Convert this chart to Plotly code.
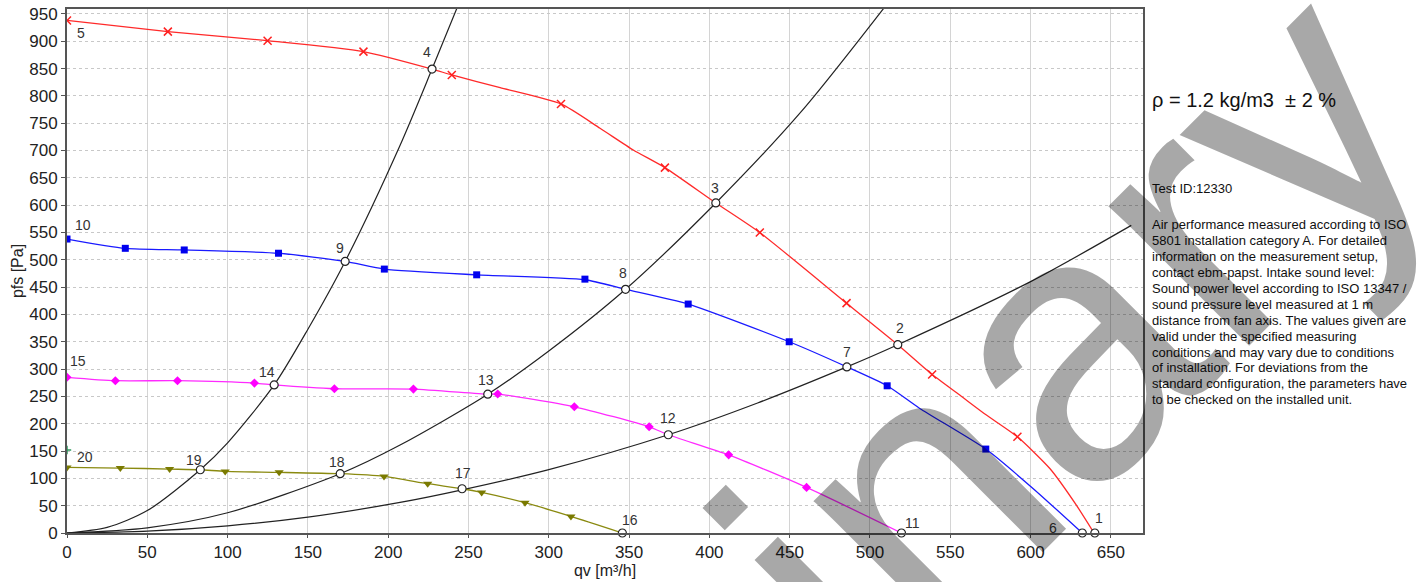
import plotly.graph_objects as go

# ---------------- data ----------------
# fan curves (line nodes)
red_x = [0, 62.8, 124.9, 184.6, 227.3, 239.6, 269.7, 307.6, 331.9, 352.6, 372.3, 404, 431.4, 485.4, 517.3, 538.7, 555.9, 572.5, 591.8, 612, 628.5, 639.5]
red_y = [938, 917.6, 901, 881, 849, 838.3, 815, 785.2, 740.8, 701, 668.7, 604, 549.8, 420.7, 344.6, 290, 252.4, 215.8, 176, 118, 51, 0]
red_mx = [0, 62.8, 124.9, 184.6, 239.6, 307.6, 372.3, 431.4, 485.4, 538.7, 591.8]
red_my = [938, 917.6, 901, 881, 838.3, 785.2, 668.7, 549.8, 420.7, 290, 176]

blue_x = [0, 36.3, 73, 131.7, 173.2, 197.6, 255.1, 322.5, 347.8, 386.8, 449.7, 485.6, 510.7, 531, 572.1, 601.5, 632.2]
blue_y = [538, 521, 518, 512, 497, 483, 472.5, 463.5, 446, 419, 350, 304, 269.4, 228, 153.6, 81.6, 0]
blue_mx = [0, 36.3, 73, 131.7, 197.6, 255.1, 322.5, 386.8, 449.7, 510.7, 572.1]
blue_my = [538, 521, 518, 512, 483, 472.5, 464.6, 419, 350, 269.4, 153.6]

mag_x = [0, 30.1, 68.8, 116.7, 129, 166.5, 215.7, 262, 268.2, 315.9, 362.5, 374.4, 412, 460.5, 519.6]
mag_y = [285, 278.7, 278.7, 274.3, 271, 264, 263.4, 254, 254.3, 231, 194.4, 179.8, 143, 83.5, 0]
mag_mx = [0, 30.1, 68.8, 116.7, 166.5, 215.7, 268.2, 315.9, 362.5, 412, 460.5]
mag_my = [285, 278.7, 278.7, 274.3, 264, 263.4, 254.3, 231, 194.4, 143, 83.5]

olv_x = [0, 33.2, 63.9, 83, 98.5, 132.1, 170.1, 197.4, 224.6, 246, 258.2, 285.2, 313.8, 345.8]
olv_y = [120, 118.9, 117, 115.8, 112.7, 111, 108.5, 103.6, 90.2, 81, 74.3, 55.4, 30.4, 0]
olv_mx = [0, 33.2, 63.9, 98.5, 132.1, 197.4, 224.6, 258.2, 285.2, 313.8]
olv_my = [120, 118.9, 117, 112.7, 111, 103.6, 90.2, 74.3, 55.4, 30.4]

# system resistance curves
sysA_x = [0, 25, 50, 83, 100, 129, 150, 173.2, 207, 227.3, 243]
sysA_y = [0, 10.3, 41, 115.8, 165, 271, 373, 497, 707, 849, 962]
sysB_x = [0, 50, 100, 170.1, 207.4, 262, 300, 347.8, 404, 457.3, 509]
sysB_y = [0, 9.5, 37, 108.5, 161, 254, 333, 446, 604, 771.5, 962]
sysC_x = [0, 50, 100, 150, 207.4, 246, 300, 374.4, 430, 485.6, 517.3, 600, 662.7]
sysC_y = [0, 3.3, 13, 29, 56, 79, 116, 179.8, 238, 304, 344.6, 460, 563]

# operating points
op_labels = [str(i) for i in range(1, 21)]
op_x = [640, 517.3, 404, 227.3, 0, 632.2, 485.6, 347.8, 173.2, 0,
        519.6, 374.4, 262, 129, 0, 345.8, 246, 170.1, 83, 0]
op_y = [0, 344.6, 604, 849, 938, 0, 304, 446, 497, 538,
        0, 179.8, 254, 271, 285, 0, 81, 108.5, 115.8, 120]

# small green mark on the y axis
green_x = [0]
green_y = [152]

x_ticks = list(range(0, 651, 50))
y_ticks = list(range(0, 951, 50))

info_title = "ρ = 1.2 kg/m3  ± 2 %"
test_id = "Test ID:12330"
info_lines = [
    "Air performance measured according to ISO",
    "5801 installation category A. For detailed",
    "information on the measurement setup,",
    "contact ebm-papst. Intake sound level:",
    "Sound power level according to ISO 13347 /",
    "sound pressure level measured at 1 m",
    "distance from fan axis. The values given are",
    "valid under the specified measuring",
    "conditions and may vary due to conditions",
    "of installation. For deviations from the",
    "standard configuration, the parameters have",
    "to be checked on the installed unit.",
]
watermark = "Preliminary"

# ---------------- style ----------------
# pixel offsets of the point labels (dx right, dy up)
label_off = {
    "1": (4, 15), "2": (2, 17), "3": (-1, 15), "4": (-5, 17), "5": (14, -13),
    "6": (-29, 5), "7": (0, 15), "8": (-3, 16), "9": (-5, 13), "10": (16, 14),
    "11": (11, 10), "12": (0, 17), "13": (-2, 14), "14": (-7, 13), "15": (11, 16),
    "16": (8, 13), "17": (1, 16), "18": (-3, 12), "19": (-6, 10), "20": (18, 10),
}

FONT = "Liberation Sans, Arial, sans-serif"
fig = go.Figure()

for xs, ys in [(sysA_x, sysA_y), (sysB_x, sysB_y), (sysC_x, sysC_y)]:
    fig.add_trace(go.Scatter(x=xs, y=ys, mode="lines",
                             line=dict(color="#222222", width=1.2, shape="spline", smoothing=0.8),
                             hoverinfo="skip"))

curves = [
    (red_x, red_y, red_mx, red_my, "#ff2a2a",
     dict(symbol="x-thin-open", size=8, color="#ff2020", line=dict(width=1.5, color="#ff2020"))),
    (blue_x, blue_y, blue_mx, blue_my, "#1a1aff", dict(symbol="square", size=7, color="#0000ee")),
    (mag_x, mag_y, mag_mx, mag_my, "#ff2aff", dict(symbol="diamond", size=7, color="#ff00ff")),
    (olv_x, olv_y, olv_mx, olv_my, "#8a8a10", dict(symbol="triangle-down", size=8, color="#7a7a00")),
]
for lx, ly, mx, my, col, mk in curves:
    fig.add_trace(go.Scatter(x=lx, y=ly, mode="lines",
                             line=dict(color=col, width=1.3, shape="spline", smoothing=0.6),
                             hoverinfo="skip"))
    fig.add_trace(go.Scatter(x=mx, y=my, mode="markers", marker=mk, hoverinfo="skip"))

fig.add_trace(go.Scatter(x=green_x, y=green_y, mode="markers",
                         marker=dict(symbol="cross-thin-open", size=6, color="#2e9a5e",
                                     line=dict(width=1.5, color="#2e9a5e")),
                         hoverinfo="skip"))

# operating point circles (not drawn on the axis)
cx = [x for x in op_x if x > 0]
cy = [y for x, y in zip(op_x, op_y) if x > 0]
fig.add_trace(go.Scatter(x=cx, y=cy, mode="markers",
                         marker=dict(symbol="circle", size=8, color="white",
                                     line=dict(color="#222222", width=1.2)),
                         hoverinfo="skip", cliponaxis=False))

annotations = []
for lab, x, y in zip(op_labels, op_x, op_y):
    dx, dy = label_off[lab]
    annotations.append(dict(x=x, y=y, xref="x", yref="y", text=lab, showarrow=False,
                            xshift=dx, yshift=dy, font=dict(family=FONT, size=14, color="#333333")))

TX = 1.0065
annotations.append(dict(xref="paper", yref="paper", x=TX, y=0.8255, xanchor="left", yanchor="middle",
                        text=info_title, showarrow=False, font=dict(family=FONT, size=20, color="#111111")))
annotations.append(dict(xref="paper", yref="paper", x=TX, y=0.658, xanchor="left", yanchor="middle",
                        text=test_id, showarrow=False, font=dict(family=FONT, size=13, color="#111111")))
line_step = 15.9 / 524.3
for i, ln in enumerate(info_lines):
    annotations.append(dict(xref="paper", yref="paper", x=TX, y=0.588 - i * line_step,
                            xanchor="left", yanchor="middle", text=ln, showarrow=False,
                            font=dict(family=FONT, size=13, color="#111111")))

# watermark
annotations.append(dict(xref="paper", yref="paper", x=0.586, y=-0.348, xanchor="center", yanchor="middle",
                        text=watermark, showarrow=False, textangle=-45,
                        font=dict(family=FONT, size=375, color="rgba(0,0,0,0.34)")))

fig.update_layout(
    width=1424, height=582,
    margin=dict(l=67, r=281, t=9, b=49, autoexpand=False),
    paper_bgcolor="white", plot_bgcolor="white",
    showlegend=False,
    annotations=annotations,
    font=dict(family=FONT, color="#222222"),
)
fig.update_xaxes(range=[0, 670], tickvals=x_ticks, ticktext=[str(v) for v in x_ticks],
                 showgrid=True, gridcolor="#d4d4d4", gridwidth=1,
                 showline=True, linecolor="#555555", linewidth=2, mirror=True,
                 ticks="outside", ticklen=3, tickcolor="#555555",
                 tickfont=dict(family=FONT, size=17, color="#222222"),
                 title=dict(text="qv [m³/h]", font=dict(family=FONT, size=16, color="#222222"), standoff=2),
                 zeroline=False, automargin=False)
fig.update_yaxes(range=[0, 959], tickvals=y_ticks, ticktext=[str(v) for v in y_ticks],
                 showgrid=True, gridcolor="#c8c8c8", gridwidth=1, griddash="dot",
                 showline=True, linecolor="#555555", linewidth=2, mirror=True,
                 ticks="outside", ticklen=4, tickcolor="#555555",
                 tickfont=dict(family=FONT, size=17, color="#222222"),
                 title=dict(text="pfs [Pa]", font=dict(family=FONT, size=16, color="#222222"), standoff=2),
                 zeroline=False, automargin=False)

fig.write_html("out.html", config={"displayModeBar": False},
               post_script="document.body.style.margin='0px';")
